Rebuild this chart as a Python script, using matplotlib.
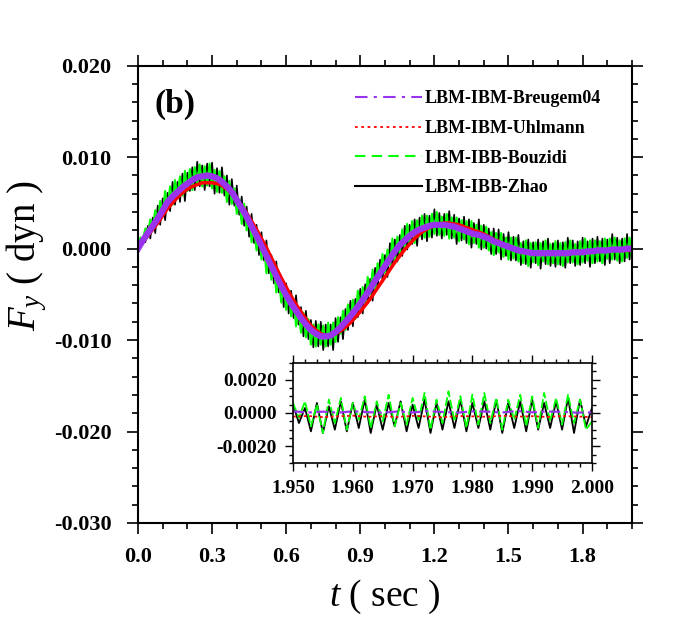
import numpy as np
import matplotlib
matplotlib.use("Agg")
import matplotlib.pyplot as plt
from matplotlib.ticker import MultipleLocator, FormatStrFormatter
from matplotlib.lines import Line2D

plt.rcParams.update({
    "font.family": "Liberation Serif",
    "axes.unicode_minus": False,
    "mathtext.fontset": "custom",
    "mathtext.rm": "Liberation Serif",
    "mathtext.it": "Liberation Serif:italic",
})

# ---------------------------------------------------------------------------
# data (force in units of 1e-4 dyn)
# ---------------------------------------------------------------------------
labels = ["LBM-IBM-Breugem04", "LBM-IBM-Uhlmann", "LBM-IBB-Bouzidi", "LBM-IBB-Zhao"]

# 0.02 s spacing, t = 0 ... 2.0
breugem = [0, 9, 17, 25, 33, 42, 51, 57, 62, 67,
           71, 75, 78, 79, 80, 79, 77, 73, 68, 62,
           53, 44, 35, 24, 14, 3, -8, -19, -30, -41,
           -51, -60, -68, -76, -83, -89, -93, -96, -96, -95,
           -91, -86, -80, -74, -67, -60, -52, -44, -35, -27,
           -19, -11, -3, 4, 9, 14, 18, 21, 23, 25,
           26, 26, 26, 25, 24, 22, 20, 18, 16, 15,
           13, 11, 8, 6, 4, 2, 0, -2, -3, -4,
           -5, -5, -5, -5, -5, -5, -5, -5, -4, -4,
           -4, -3, -3, -2, -2, -2, -1, -1, -1, 0,
           0]
uhlmann = [0, 7, 14, 21, 28, 36, 44, 50, 56, 61,
           65, 68, 70, 72, 72, 72, 71, 69, 65, 60,
           54, 47, 39, 30, 21, 11, 1, -10, -21, -32,
           -42, -52, -61, -69, -77, -84, -89, -93, -95, -95,
           -93, -90, -86, -81, -75, -69, -62, -55, -47, -39,
           -31, -23, -15, -8, -1, 5, 11, 16, 20, 23,
           25, 27, 28, 28, 27, 26, 24, 22, 20, 18,
           16, 13, 10, 8, 5, 2, 0, -2, -4, -5,
           -5, -5, -6, -6, -5, -5, -5, -5, -5, -4,
           -4, -4, -3, -3, -3, -2, -2, -2, -2, -2,
           -2]

# 0.01 s spacing, t = 0 ... 2.0 (noisy traces)
bouzidi = [4, 12, 11, 22, 17, 32, 23, 42, 29, 52,
           37, 63, 44, 68, 48, 75, 56, 79, 58, 85,
           63, 87, 64, 89, 70, 92, 68, 90, 69, 93,
           66, 86, 62, 85, 61, 79, 51, 74, 49, 66,
           38, 54, 27, 49, 20, 36, 7, 23, -2, 16,
           -12, 4, -27, -8, -34, -17, -48, -31, -59, -39,
           -67, -46, -74, -56, -85, -67, -92, -70, -97, -77,
           -105, -83, -107, -83, -105, -84, -107, -81, -105, -81,
           -102, -75, -93, -68, -89, -61, -80, -56, -77, -46,
           -67, -42, -60, -31, -50, -23, -45, -16, -32, -6,
           -27, -1, -18, 11, -13, 13, -5, 21, 2, 27,
           5, 30, 6, 31, 13, 36, 12, 36, 13, 38,
           16, 40, 15, 35, 14, 38, 11, 34, 12, 34,
           8, 31, 10, 30, 5, 30, 6, 26, 1, 25,
           1, 24, -2, 18, -7, 17, -4, 17, -9, 12,
           -12, 12, -11, 12, -14, 6, -16, 9, -19, 6,
           -15, 7, -18, 6, -14, 9, -17, 5, -16, 8,
           -17, 6, -19, 7, -15, 9, -15, 5, -17, 8,
           -15, 11, -13, 9, -16, 9, -14, 8, -16, 11,
           -11, 11, -12, 12, -13, 9, -14, 11, -10, 12,
           -11]
zhao = [0, 1, 13, 7, 25, 11, 34, 17, 47, 26,
        55, 31, 61, 41, 73, 48, 73, 51, 82, 52,
        83, 63, 89, 64, 95, 68, 91, 64, 93, 68,
        94, 60, 88, 61, 89, 58, 80, 48, 76, 47,
        69, 37, 57, 25, 46, 13, 38, 6, 26, -7,
        18, -13, 9, -27, -7, -38, -14, -48, -30, -64,
        -38, -71, -46, -76, -51, -83, -64, -96, -68, -99,
        -78, -108, -79, -107, -80, -111, -83, -107, -83, -111,
        -76, -102, -75, -99, -66, -89, -57, -85, -55, -75,
        -44, -71, -39, -60, -33, -57, -21, -44, -12, -34,
        -7, -31, 6, -19, 10, -14, 15, -8, 25, -1,
        26, 5, 32, 3, 34, 10, 38, 8, 36, 12,
        43, 14, 39, 11, 38, 15, 41, 11, 37, 5,
        33, 9, 35, 6, 32, 1, 28, 5, 32, -1,
        26, 0, 22, -6, 22, -6, 21, -12, 16, -8,
        18, -13, 13, -13, 15, -18, 8, -17, 10, -21,
        7, -16, 10, -22, 8, -17, 11, -19, 6, -20,
        9, -18, 7, -21, 12, -16, 9, -19, 8, -18,
        12, -16, 8, -20, 11, -16, 13, -14, 11, -18,
        10, -16, 16, -12, 12, -16, 11, -14, 16, -12,
        11]

# inset: t = 1.950 ... 2.000
ins_breugem = [1.0, 0.3, 0.8, 0.2, 1.0, 0.5, 0.2, 0.9, 0.3, 1.1,
               0.6, 0.2, 1.0, 0.8, 0.3, 1.2, 0.4, 0.9, 0.7, 0.2, 0.4]
ins_uhlmann = [-2.2, -1.8, -2.5, -2.0, -1.6, -2.3, -1.9, -2.4, -1.7, -2.1,
               -2.6, -1.8, -2.0, -2.3, -1.6, -2.2, -1.9, -2.4, -1.8, -2.1, -2.5]
ins_bouzidi = [6, -3, 7, -8, 5, -12, 8, -6, 9, -10,
               6, -4, 10, -9, 7, -5, 11, -8, 6, -7,
               9, -4, 12, -10, 8, -6, 13, -5, 10, -9,
               11, -7, 12, -6, 9, -10, 8, -4, 11, -8,
               10, -9, 12, -5, 9, -7, 11, -6, 8, -10,
               -5]
ins_zhao = [5, -6, 3, -11, 6, -12, 4, -10, 7, -11,
            6, -9, 8, -12, 5, -10, 6, -8, 7, -11,
            5, -9, 8, -12, 6, -10, 7, -9, 8, -11,
            6, -9, 7, -10, 8, -12, 6, -9, 7, -11,
            8, -10, 6, -9, 7, -10, 9, -12, 8, -8,
            3]

SCALE = 1e-4
PURPLE, RED, GREEN = "#9933ee", "#ff0000", "#00ff00"

def tgrid(a, b, vals):
    return np.linspace(a, b, len(vals))

# ---------------------------------------------------------------------------
fig = plt.figure(figsize=(6.74, 6.24), dpi=100)
ax = fig.add_axes([0.2047, 0.1619, 0.733, 0.7328])

ax.plot(tgrid(0, 2, zhao), np.array(zhao) * SCALE, color="k", lw=1.2)
ax.plot(tgrid(0, 2, bouzidi), np.array(bouzidi) * SCALE, color=GREEN, lw=1.5)
ax.plot(tgrid(0, 2, uhlmann), np.array(uhlmann) * SCALE, color=RED, lw=2.5)
ax.plot(tgrid(0, 2, breugem), np.array(breugem) * SCALE, color=PURPLE, lw=4.5)

ax.set_xlim(0, 2.0)
ax.set_ylim(-0.03, 0.02)
ax.xaxis.set_major_locator(MultipleLocator(0.3))
ax.xaxis.set_minor_locator(MultipleLocator(0.1))
ax.yaxis.set_major_locator(MultipleLocator(0.01))
ax.yaxis.set_minor_locator(MultipleLocator(0.002))
ax.xaxis.set_major_formatter(FormatStrFormatter("%.1f"))
ax.yaxis.set_major_formatter(FormatStrFormatter("%.3f"))
ax.tick_params(which="both", direction="out", top=True, right=True, width=1.2)
ax.tick_params(which="major", length=8, labelsize=16)
ax.tick_params(which="minor", length=4.5)
ax.tick_params(axis="x", pad=9)
ax.tick_params(axis="y", pad=11)
for lab in ax.get_xticklabels() + ax.get_yticklabels():
    lab.set_fontweight("bold")
for sp in ax.spines.values():
    sp.set_linewidth(1.5)

ax.set_xlabel("$t$ ( sec )", fontsize=27, labelpad=8)
ax.set_ylabel("$F_y$ ( dyn )", fontsize=28)
ax.yaxis.set_label_coords(-0.18, 0.585)

fig.text(154 / 674, 1 - 104 / 624, "(b)", fontsize=24, fontweight="bold",
         ha="left", va="center")

handles = [
    Line2D([], [], color=PURPLE, lw=1.5, ls=(0, (6, 3, 1.5, 3))),
    Line2D([], [], color=RED, lw=1.3, ls=(0, (1.5, 2))),
    Line2D([], [], color=GREEN, lw=1.5, ls=(0, (5, 3))),
    Line2D([], [], color="k", lw=1.5),
]
ax.legend(handles, labels, loc="upper left", bbox_to_anchor=(0.527, 0.855),
          bbox_transform=fig.transFigure, frameon=False,
          prop=dict(weight="bold", size=13), handlelength=3.7,
          handletextpad=0.15, labelspacing=0.7, borderpad=0, borderaxespad=0)

# inset
axi = fig.add_axes([0.4347, 0.258, 0.4436, 0.1603])
axi.plot(tgrid(1.95, 2.0, ins_zhao), np.array(ins_zhao) * SCALE, color="k", lw=1.3)
axi.plot(tgrid(1.95, 2.0, ins_bouzidi), np.array(ins_bouzidi) * SCALE,
         color=GREEN, lw=1.3, ls=(0, (5, 1.5)))
axi.plot(tgrid(1.95, 2.0, ins_uhlmann), np.array(ins_uhlmann) * SCALE,
         color=RED, lw=1.3, ls=(0, (1.5, 1.5)))
axi.plot(tgrid(1.95, 2.0, ins_breugem), np.array(ins_breugem) * SCALE,
         color=PURPLE, lw=1.6, ls=(0, (5, 2, 1.5, 2)))
axi.set_xlim(1.95, 2.0)
axi.set_ylim(-0.003, 0.003)
axi.xaxis.set_major_locator(MultipleLocator(0.01))
axi.xaxis.set_minor_locator(MultipleLocator(0.002))
axi.yaxis.set_major_locator(MultipleLocator(0.002))
axi.yaxis.set_minor_locator(MultipleLocator(0.0005))
axi.xaxis.set_major_formatter(FormatStrFormatter("%.3f"))
axi.yaxis.set_major_formatter(FormatStrFormatter("%.4f"))
axi.tick_params(which="both", direction="out", top=True, right=True, width=1.0)
axi.tick_params(which="major", length=5.5, labelsize=14)
axi.tick_params(which="minor", length=3)
axi.tick_params(axis="x", pad=7)
axi.tick_params(axis="y", pad=6)
for lab in axi.get_xticklabels() + axi.get_yticklabels():
    lab.set_fontweight("bold")
for sp in axi.spines.values():
    sp.set_linewidth(1.2)

fig.savefig("out.png", dpi=100)
